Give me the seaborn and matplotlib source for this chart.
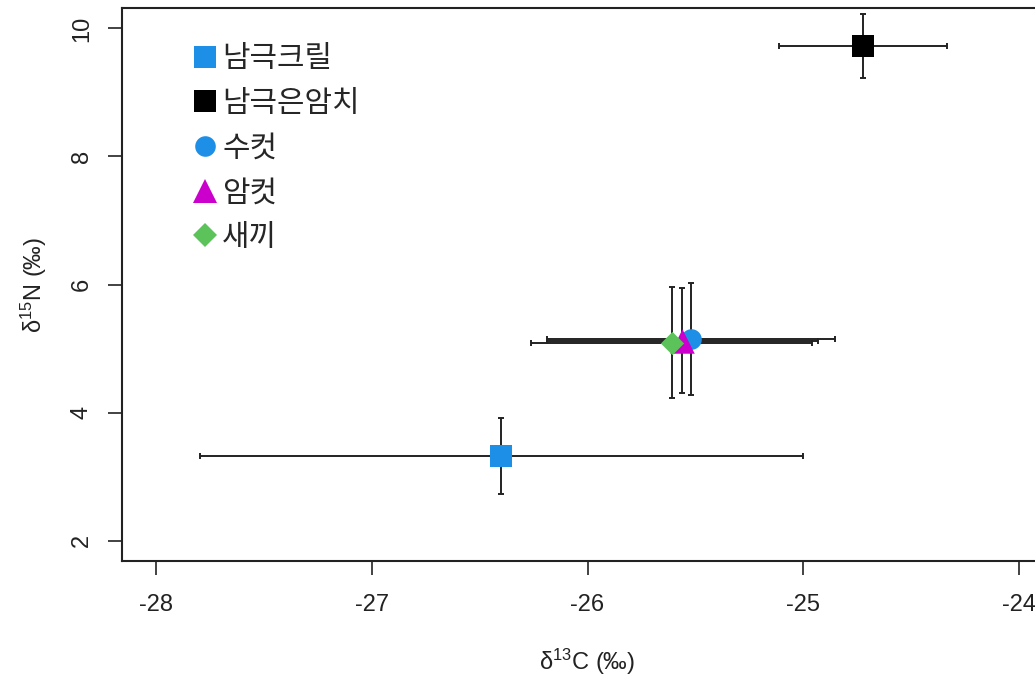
import matplotlib
matplotlib.use("Agg")
import matplotlib.pyplot as plt
from matplotlib.lines import Line2D
import seaborn as sns
import pandas as pd

# Stable isotope means and standard deviations per group
groups = ["남극크릴", "남극은암치", "수컷", "암컷", "새끼"]
d13c_mean = [-26.40, -24.72, -25.52, -25.56, -25.61]
d13c_sd = [1.40, 0.39, 0.67, 0.63, 0.65]
d15n_mean = [3.32, 9.73, 5.15, 5.12, 5.09]
d15n_sd = [0.60, 0.50, 0.88, 0.82, 0.87]

colors = ["#1E8FE6", "#000000", "#1E8FE6", "#CC00CC", "#5CC35A"]
markers = ["s", "s", "o", "^", "D"]
sizes = [262, 262, 220, 310, 140]

df = pd.DataFrame({
    "group": groups,
    "d13c": d13c_mean,
    "d13c_sd": d13c_sd,
    "d15n": d15n_mean,
    "d15n_sd": d15n_sd,
})

sns.set_theme(style="white")
plt.rcParams["font.family"] = ["Liberation Sans", "DejaVu Sans"]
plt.rcParams["mathtext.fontset"] = "custom"
plt.rcParams["mathtext.rm"] = "Liberation Sans"
plt.rcParams["mathtext.it"] = "Liberation Sans"

fig = plt.figure(figsize=(10.35, 6.76), dpi=100)
ax = fig.add_axes([122 / 1035, 1 - 561 / 676, 931 / 1035, 553 / 676])

# error bars first, markers on top
ax.errorbar(df["d13c"], df["d15n"], xerr=df["d13c_sd"], yerr=df["d15n_sd"],
            fmt="none", ecolor="#222222", elinewidth=1.4, capsize=2.2,
            capthick=1.4, zorder=2)

for i, g in enumerate(groups):
    sns.scatterplot(data=df[df["group"] == g], x="d13c", y="d15n",
                    marker=markers[i], color=colors[i], s=sizes[i],
                    linewidth=0, ax=ax, zorder=3 + i, legend=False)

ax.set_xlim(-28.16, -23.84)
ax.set_ylim(1.68, 10.32)
ax.set_xticks([-28, -27, -26, -25, -24])
ax.set_yticks([2, 4, 6, 8, 10])
ax.set_xticklabels(["-28", "-27", "-26", "-25", "-24"])
ax.set_yticklabels(["2", "4", "6", "8", "10"], rotation=90, va="center")

ax.tick_params(axis="both", which="major", direction="out", length=10,
               width=1.2, color="#222222", labelsize=17, labelcolor="#222222",
               bottom=True, left=True, pad=11)
ax.tick_params(axis="x", pad=14)
for sp in ax.spines.values():
    sp.set_visible(True)
    sp.set_color("#222222")
    sp.set_linewidth(1.5)

ax.set_xlabel("δ$^{13}$C (‰)", fontsize=17, color="#222222", labelpad=22)
ax.set_ylabel("δ$^{15}$N (‰)", fontsize=17, color="#222222", labelpad=16)

handles = [
    Line2D([], [], linestyle="none", marker=markers[i], color=colors[i],
           markersize=(sizes[i]) ** 0.5, markeredgewidth=0)
    for i in range(len(groups))
]
leg = ax.legend(handles, groups, loc="upper left",
                bbox_to_anchor=((190 - 122) / 931, 1 - 35 / 553),
                frameon=False, borderpad=0, borderaxespad=0,
                handlelength=1.0, handletextpad=0.08, labelspacing=0.46,
                prop={"family": ["Noto Sans CJK KR"], "size": 21.5})

fig.savefig("out.png", dpi=100)
